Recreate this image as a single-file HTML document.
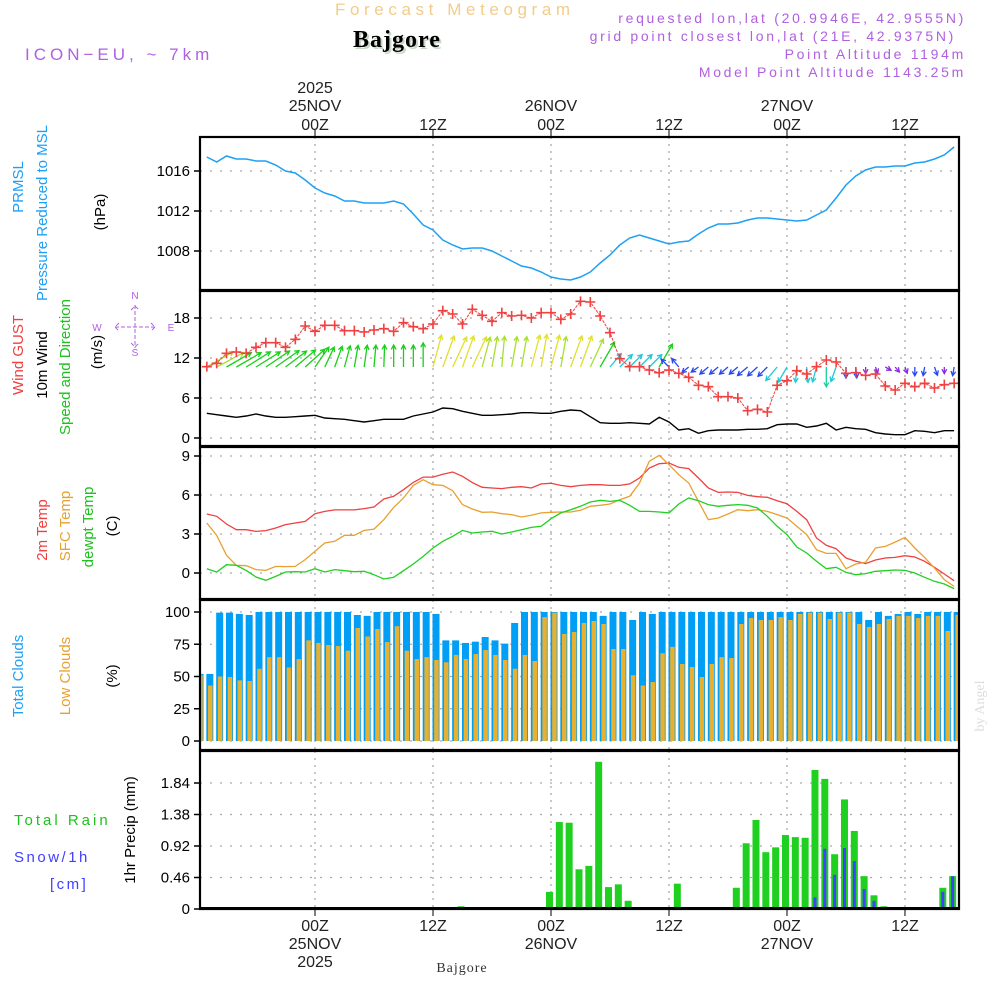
<!DOCTYPE html>
<html><head><meta charset="utf-8"><style>
body{margin:0;background:#fff;}
svg{display:block;font-family:"Liberation Sans",sans-serif;}
</style></head><body>
<svg id="chart" width="1000" height="1000" viewBox="0 0 1000 1000" xmlns="http://www.w3.org/2000/svg">
<rect width="1000" height="1000" fill="#fff"/>
<text x="335" y="15" font-size="17" fill="#f2cc8a" letter-spacing="4.6">Forecast Meteogram</text>
<text x="355" y="49" font-size="24" font-weight="bold" font-family="Liberation Serif,serif" fill="#c8d8c8" letter-spacing="1">Bajgore</text>
<text x="353" y="47" font-size="24" font-weight="bold" font-family="Liberation Serif,serif" fill="#000" letter-spacing="1">Bajgore</text>
<text x="25" y="60" font-size="17" fill="#b060e0" letter-spacing="4">ICON−EU, ~ 7km</text>
<g font-size="14" fill="#b060e0" text-anchor="end" letter-spacing="2.7">
<text x="966" y="23">requested lon,lat (20.9946E, 42.9555N)</text>
<text x="956" y="41">grid point closest lon,lat (21E, 42.9375N)</text>
<text x="966" y="59">Point Altitude 1194m</text>
<text x="966" y="77">Model Point Altitude 1143.25m</text>
</g>
<g id="g" ></g>
</svg>
<script>
const hours=[];for(let t=-11;t<=65;t++)hours.push(t);
const pressure=[1017.4,1016.9,1017.5,1017.2,1017.2,1017.0,1017.0,1016.6,1016.0,1015.8,1015.1,1014.3,1013.8,1013.5,1013.0,1013.0,1012.8,1012.8,1012.8,1013.0,1012.7,1011.7,1010.6,1010.1,1009.1,1008.6,1008.2,1008.3,1008.3,1008.0,1007.5,1007.0,1006.5,1006.3,1005.9,1005.4,1005.2,1005.1,1005.4,1005.9,1006.8,1007.6,1008.6,1009.3,1009.6,1009.3,1009.0,1008.7,1008.9,1009.0,1009.7,1010.3,1010.7,1010.7,1010.8,1011.1,1011.3,1011.3,1011.2,1011.1,1011.0,1011.1,1011.6,1012.1,1013.3,1014.6,1015.5,1016.1,1016.4,1016.4,1016.5,1016.5,1016.8,1016.9,1017.2,1017.6,1018.4];
const gust=[10.7,11.2,12.7,12.9,12.7,13.6,14.3,14.3,13.6,14.8,16.8,16.0,16.9,16.9,16.1,16.1,15.9,16.2,16.4,16.0,17.3,16.7,16.4,17.1,19.1,18.6,17.1,19.3,18.4,17.5,18.8,18.3,18.4,18.0,18.8,18.8,17.8,18.6,20.5,20.4,18.3,15.8,11.9,10.7,10.7,10.2,9.8,10.2,9.7,9.1,7.9,7.7,6.2,6.2,6.0,4.1,4.3,3.9,7.9,8.6,10.1,9.6,10.7,11.7,11.4,9.7,9.8,9.4,9.6,7.8,7.2,8.2,7.7,8.2,7.5,8.0,8.2];
const wind10=[3.7,3.5,3.3,3.1,3.3,3.6,3.3,3.1,3.1,3.2,3.3,3.4,3.0,2.9,2.8,2.6,2.4,2.6,2.8,2.8,2.8,3.3,3.6,3.9,4.5,4.4,4.0,3.7,3.4,3.4,3.5,3.6,3.8,3.8,3.7,3.7,4.0,4.2,4.1,3.2,2.3,2.2,2.2,2.3,2.2,2.1,3.1,2.4,1.2,1.4,0.7,1.1,1.2,1.2,1.2,1.3,1.3,1.4,2.0,2.1,2.1,1.6,1.8,2.2,1.2,1.6,1.4,1.3,0.8,0.6,0.5,0.5,1.1,1.0,0.8,1.1,1.1];
const windDir=[240,242,240,240,238,238,236,235,233,230,228,215,205,200,195,190,188,185,182,180,180,180,180,195,200,205,200,205,195,190,185,190,190,195,190,195,190,200,200,205,210,220,225,225,225,225,210,135,140,50,55,50,50,50,50,50,48,45,40,30,5,355,15,0,20,0,355,0,340,300,320,340,0,10,340,0,10];
const arrowSpd=[14,14,13,13,13,13,13,13,12,12,12,11,10,10,10,10,10,10,10,10,10,10,11,15,15,15,15,15,14,14,14,14,14,15,15,15,14,15,15,14,13,8,8,8,8,8,12,5,5,4,4,5,5,5,5,6,6,6,8,8,7,7,7,9,7,5,5,3,3,3,3,3,4,4,4,3,4];
const t2m=[4.54,4.36,3.77,3.33,3.33,3.2,3.26,3.46,3.72,3.85,3.97,4.56,4.74,4.85,4.85,4.85,4.95,5.08,5.69,5.9,6.41,6.97,7.38,7.38,7.59,7.77,7.44,6.95,6.59,6.54,6.49,6.59,6.64,6.54,6.85,6.9,6.74,6.64,6.74,6.79,6.79,6.74,6.74,6.85,7.31,8.08,8.41,8.46,8.13,8.03,7.31,6.54,6.2,6.23,6.2,5.97,5.87,5.82,5.56,5.33,4.74,4.1,2.69,2.13,1.87,1.15,0.9,0.72,1.0,1.15,1.2,1.33,1.23,0.9,0.44,-0.08,-0.59];
const tSfc=[3.85,2.9,1.36,0.59,0.56,0.26,0.2,0.51,0.49,0.51,1.03,1.67,2.31,2.44,2.9,2.9,3.28,3.38,4.1,5.05,5.77,6.74,7.18,6.79,6.74,6.33,5.26,4.92,4.67,4.69,4.56,4.49,4.31,4.44,4.62,4.67,4.69,4.69,4.82,5.13,5.21,5.31,5.64,5.9,6.92,8.59,9.05,8.33,7.56,6.92,5.51,4.1,4.23,4.54,4.87,4.79,4.87,4.74,4.49,4.23,3.59,2.95,1.79,1.51,1.51,0.33,0.69,0.82,1.92,2.05,2.38,2.74,1.92,1.2,0.38,-0.51,-1.03];
const tDew=[0.33,0.08,0.64,0.59,0.2,-0.31,-0.56,-0.26,0.08,0.1,0.08,0.33,0.08,0.26,0.18,0.1,0.13,-0.13,-0.46,-0.33,0.18,0.69,1.28,1.92,2.44,2.82,3.28,3.08,3.15,3.21,3.0,3.15,3.33,3.51,3.59,4.18,4.62,4.87,5.13,5.46,5.59,5.51,5.59,5.21,4.74,4.74,4.69,4.62,5.31,5.77,5.56,5.26,5.13,5.21,5.26,5.21,5.0,4.36,3.59,2.95,2.0,1.54,0.9,0.33,0.44,0.05,-0.13,-0.05,0.13,0.18,0.23,0.2,0,-0.33,-0.64,-0.85,-1.2];
const cloudHours=[];for(let t=-12;t<=65;t++)cloudHours.push(t);
const totalClouds=[52,52,99.5,99.5,98.5,97.7,100,100,100,100,100,100,100,100,100,100,97.7,97,100,100,100,100,100,100,98.5,78,78,76,77,80.6,78,75.5,91.5,100,100,100,100,100,100,100,100,97,100,100,93.8,100,98.5,100,100,100,100,100,100,100,100,100,100,100,100,100,100,100,100,100,100,100,100,100,93.8,100,97,98.5,100,98.5,100,100,100,100];
const lowClouds=[51,43,50,49.6,47,46.5,56,65,65,57,63.5,78,76,74.4,73.6,70,87.6,81,86.8,76.7,89,70,63.5,65,62.8,61,66.7,63.5,67.4,70.5,66.7,62.8,56,66.7,62,96,99.5,83,84.5,91.5,93,90.7,71.3,71.3,51,43,45.7,68,73,59.7,57.4,49.6,59.7,65,64.3,90.7,95.3,93.8,93.8,96,93.8,98.5,99.5,99.5,94.6,99.5,99.5,90.7,88.4,90.7,94.6,97,97,95.3,97,97,85.3,97.7];
const rain=[0,0,0,0,0,0,0,0,0,0,0, 0,0,0,0,0,0,0,0,0,0, 0.02,0.02,0.02,0,0,0.04,0.02,0,0,0, 0,0,0,0,0.25,1.27,1.26,0.58,0.63,2.15, 0.32,0.36,0.12,0,0,0,0,0.37,0,0, 0,0.01,0,0.31,0.96,1.30,0.83,0.9,1.08,1.05, 1.04,2.03,1.9,0.8,1.6,1.14,0.48,0.2,0.04,0, 0,0,0,0,0.31,0.48];
const snow=[0,0,0,0,0,0,0,0,0,0,0, 0,0,0,0,0,0,0,0,0,0, 0,0,0,0,0,0,0,0,0,0, 0,0,0,0,0,0,0,0,0,0, 0,0,0,0,0,0,0,0,0,0, 0,0,0,0,0,0,0,0,0,0, 0,0.17,0.88,0.5,0.89,0.7,0.29,0.12,0,0, 0,0,0,0,0.25,0.48];
const pTicks=[1008,1012,1016], wTicks=[0,6,12,18], tTicks=[0,3,6,9], cTicks=[0,25,50,75,100], rTicks=[0,0.46,0.92,1.38,1.84];
const timeTicks=[0,12,24,36,48,60];
const tickNames=["00Z","12Z","00Z","12Z","00Z","12Z"];
const dayNames=["25NOV","","26NOV","","27NOV",""];

const NS="http://www.w3.org/2000/svg", root=document.getElementById('g');
const X0=200,X1=959;
function xOf(t){return 315+t*9.833;}
function lin(v0,y0,v1,y1){return v=>y0+(v-v0)*(y1-y0)/(v1-v0);}
const yP=lin(1016,171,1008,251), yW=lin(0,438,18,318), yT=lin(0,573,9,456), yC=lin(0,741,100,612), yR=lin(0,909,1.84,783);
function el(tag,attrs,parent,txt){const e=document.createElementNS(NS,tag);for(const k in attrs)e.setAttribute(k,attrs[k]);if(txt!==undefined)e.textContent=txt;(parent||root).appendChild(e);return e;}
const defs=el('defs',{});
const panels=[[137,290],[291,446],[447,599],[600,750],[751,909]];
const pnames=['pressure-panel','wind-panel','temperature-panel','clouds-panel','precip-panel'];
const groups=[];
panels.forEach((p,i)=>{const cp=el('clipPath',{id:'c'+i},defs);el('rect',{x:X0,y:p[0],width:X1-X0,height:p[1]-p[0]},cp);
 const g=el('g',{'clip-path':'url(#c'+i+')'});
 
 
 groups.push(g);});
function grid(i,yf,ticks,fmt){const p=panels[i],g=groups[i];
 timeTicks.forEach(t=>{const l=el('line',{x1:xOf(t),x2:xOf(t),y1:p[0],y2:p[1],stroke:'#aaa','stroke-width':1.3,'stroke-dasharray':'2,5'},g);
  
  });
 ticks.forEach(v=>{const y=yf(v);const l=el('line',{x1:X0,x2:X1,y1:y,y2:y,stroke:'#aaa','stroke-width':1.3,'stroke-dasharray':'2,8'},g);
  
  
  el('line',{x1:X0-6,x2:X0,y1:y,y2:y,stroke:'#000','stroke-width':1.5});
  const tx=el('text',{x:X0-10,y:y+5,'font-size':15,'text-anchor':'end',fill:'#000'},root,fmt(v));
  
  });}
grid(0,yP,pTicks,v=>v);grid(1,yW,wTicks,v=>v);grid(2,yT,tTicks,v=>v);grid(3,yC,cTicks,v=>v);grid(4,yR,rTicks,v=>v.toFixed(2).replace(/^0\.00$/,'0').replace(/^0(\.\d)0$/,'$1'));
function line(g,vals,yf,color,name,w){const d=vals.map((v,i)=>(i?'L':'M')+xOf(hours[i]).toFixed(1)+','+yf(v).toFixed(1)).join('');
 const p=el('path',{d:d,fill:'none',stroke:color,'stroke-width':w||1.3},g);
 
 return p;}
line(groups[0],pressure,yP,'#1ea0f5','pressure-line',1.5);
totalClouds.forEach((v,i)=>{const x=xOf(cloudHours[i])-0.5;
 const b=el('rect',{x:x,y:yC(v),width:7,height:yC(0)-yC(v),fill:'#009ff5'},groups[3]);
 
 
 const o=el('rect',{x:x+1.7,y:yC(lowClouds[i]),width:4.5,height:yC(0)-yC(lowClouds[i]),fill:'#e8b030'},groups[3]);
 
 });
rain.forEach((v,i)=>{if(v<=0)return;const x=xOf(hours[i])-5;
 const b=el('rect',{x:x,y:yR(v),width:7,height:yR(0)-yR(v),fill:'#20d020'},groups[4]);
 
 
 if(snow[i]>0){const s=el('rect',{x:x+2,y:yR(snow[i]),width:3,height:yR(0)-yR(snow[i]),fill:'#4040ff'},groups[4]);
 
 }});
el('line',{x1:X0,x2:X1,y1:908,y2:908,stroke:'#000','stroke-width':2},groups[4]);
line(groups[1],wind10,yW,'#000','wind-speed-line',1.4);
function acol(s){return s>=15?'#e0e030':s>=14?'#a8e030':s>=10?'#18d018':s>=8.5?'#18d0a0':s>=6.5?'#20c8d8':s>=4?'#2848f0':'#8a2be2';}
windDir.forEach((d,i)=>{const x=xOf(hours[i]),y=367,len=arrowSpd[i]*2.2;const a=(d+180)*Math.PI/180;
 const dx=Math.sin(a)*len,dy=-Math.cos(a)*len;const x2=x+dx,y2=y+dy;const ang=Math.atan2(dy,dx);const h=5;
 const d2=`M${x},${y}L${x2},${y2}M${x2-h*Math.cos(ang-0.5)},${y2-h*Math.sin(ang-0.5)}L${x2},${y2}L${x2-h*Math.cos(ang+0.5)},${y2-h*Math.sin(ang+0.5)}`;
 const p=el('path',{d:d2,stroke:acol(arrowSpd[i]),fill:'none','stroke-width':1.3},groups[1]);
 
 });
line(groups[1],gust,yW,'#f04040','gust-line',1).setAttribute('stroke-dasharray','3,1');
gust.forEach((v,i)=>{const x=xOf(hours[i]),y=yW(v);
 const p=el('path',{d:`M${x-5},${y}h10M${x},${y-5}v10`,stroke:'#f04040','stroke-width':1.6},groups[1]);
 
 });
line(groups[2],t2m,yT,'#f04040','temp-2m-line');
line(groups[2],tSfc,yT,'#e8a030','temp-sfc-line');
line(groups[2],tDew,yT,'#20d020','dewpoint-line');
panels.forEach((p,i)=>{const r=el('rect',{x:X0,y:p[0],width:X1-X0,height:p[1]-p[0],fill:'none',stroke:'#000','stroke-width':2.2});
 
 });
timeTicks.forEach((t,i)=>{const x=xOf(t);
 el('line',{x1:x,x2:x,y1:130,y2:137,stroke:'#000','stroke-width':1});
 el('line',{x1:x,x2:x,y1:909,y2:916,stroke:'#000','stroke-width':1});
 const a=el('text',{x:x,y:130,'font-size':16,'text-anchor':'middle',fill:'#222'},root,tickNames[i]);
 
 
 const b=el('text',{x:x,y:931,'font-size':16,'text-anchor':'middle',fill:'#222'},root,tickNames[i]);
 
 
 if(dayNames[i]){const c=el('text',{x:x,y:111,'font-size':16,'text-anchor':'middle',fill:'#222'},root,dayNames[i]);
  
  
  const e=el('text',{x:x,y:949,'font-size':16,'text-anchor':'middle',fill:'#222'},root,dayNames[i]);
  
  }
});
const y1=el('text',{x:xOf(0),y:93,'font-size':16,'text-anchor':'middle',fill:'#222'},root,'2025');


const y2=el('text',{x:xOf(0),y:967,'font-size':16,'text-anchor':'middle',fill:'#222'},root,'2025');


function rl(x,y,txt,color,name,size){const t=el('text',{x:x,y:y,'font-size':size||15,fill:color,'text-anchor':'middle',transform:`rotate(-90 ${x} ${y})`},root,txt);
 
 return t;}
rl(23,187,'PRMSL','#1ea0f5','prmsl-label');
rl(47,213,'Pressure Reduced to MSL','#1ea0f5','pressure-axis-title');
rl(105,212,'(hPa)','#000','pressure-unit');
rl(23,355,'Wind GUST','#f04040','gust-label');
rl(47,365,'10m Wind','#000','wind-label');
rl(70,367,'Speed and Direction','#20c020','wind-dir-label');
rl(102,352,'(m/s)','#000','wind-unit');
rl(47,530,'2m Temp','#f04040','temp-2m-label');
rl(70,526,'SFC Temp','#e8a030','temp-sfc-label');
rl(93,527,'dewpt Temp','#20c020','dewpt-label');
rl(117,526,'(C)','#000','temp-unit');
rl(23,676,'Total Clouds','#1ea0f5','total-clouds-label');
rl(70,676,'Low Clouds','#e8a030','low-clouds-label');
rl(117,676,'(%)','#000','clouds-unit');
rl(135,830,'1hr Precip (mm)','#000','precip-axis-title');
rl(984,706,'by Angel','#ddd','credit',14).setAttribute('font-family','Liberation Serif,serif');
const lt=[[14,825,'Total  Rain','#20c020','rain-legend',3],[14,862,'Snow/1h','#4040ff','snow-legend',2.5],[50,889,'[cm]','#4040ff','snow-unit',2.5]];
lt.forEach(a=>{const t=el('text',{x:a[0],y:a[1],'font-size':15,fill:a[3],'letter-spacing':a[5]},root,a[2]);
 
 });
const bl=el('text',{x:462,y:972,'font-size':14,'text-anchor':'middle',fill:'#333','font-family':'Liberation Serif,serif','letter-spacing':1},root,'Bajgore');


const cg=el('g',{fill:'#b060e0','font-size':10,'text-anchor':'middle'});


el('text',{x:135,y:299},cg,'N');el('text',{x:135,y:356},cg,'S');el('text',{x:97,y:331},cg,'W');el('text',{x:171,y:331},cg,'E');
el('path',{d:'M115,327h40M135,305v43M119,323l-4,4l4,4M151,323l4,4l-4,4M131,310l4,-4l4,4M131,343l4,4l4,-4',stroke:'#b060e0',fill:'none','stroke-width':1,'stroke-dasharray':'4,2'},cg);
</script>
</body></html>
